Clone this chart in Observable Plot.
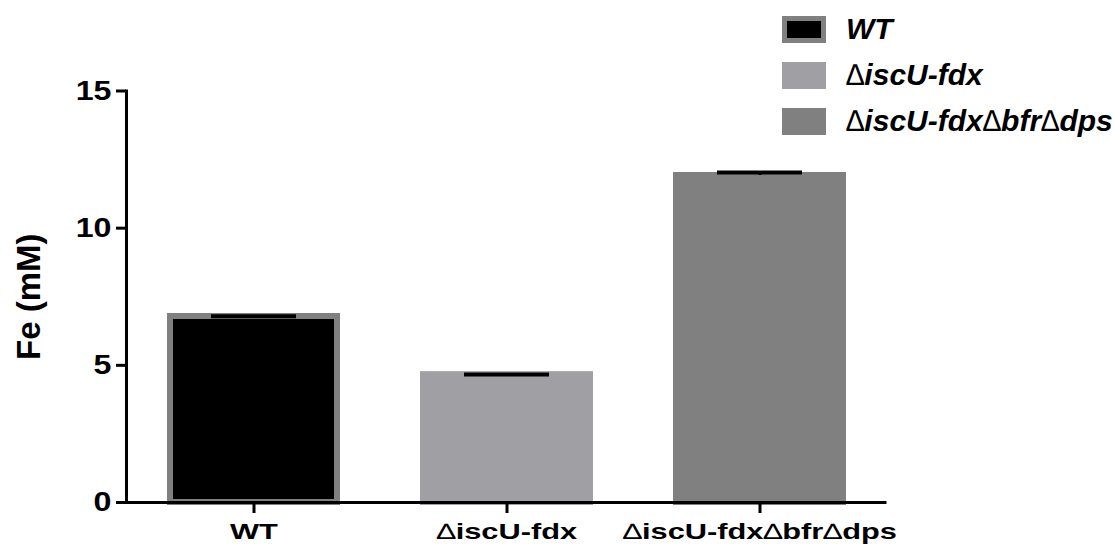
<!DOCTYPE html>
<html>
<head>
<meta charset="utf-8">
<script src="https://cdn.jsdelivr.net/npm/d3@7"></script>
<script src="https://cdn.jsdelivr.net/npm/@observablehq/plot@0.6"></script>
<style>
  html, body { margin: 0; padding: 0; background: #fff; }
  #chart { position: relative; width: 1115px; height: 552px; font-family: "Liberation Sans", Arial, sans-serif; }
  #legend { position: absolute; left: 782px; top: 6px; }
  .item { display: flex; align-items: center; height: 46px; }
  .swatch { width: 44px; height: 27px; box-sizing: border-box; border-style: solid; border-width: 5px; }
  .name { margin-left: 20px; font: italic bold 30px "Liberation Sans", Arial, sans-serif; color: #000; white-space: nowrap; }
  .delta { font-weight: normal; }
</style>
</head>
<body>
<div id="chart"><div id="legend"></div></div>
<script>
// Iron content per strain (mean and SD, mM)
const categories = ["WT", "\u2206iscU-fdx", "\u2206iscU-fdx\u2206bfr\u2206dps"];
const means = [6.78, 4.66, 11.92];
const sds = [0.01, 0.01, 0.11];
const fills = ["#000000", "#a0a0a4", "#808080"];
const borders = ["#808080", "#a0a0a4", "#808080"];
const yTicks = [0, 5, 10, 15];
const yTitle = "Fe (mM)";

const data = categories.map((group, i) => ({
  group, mean: means[i], sd: sds[i], fill: fills[i], border: borders[i]
}));

const plot = Plot.plot({
  width: 1115,
  height: 552,
  marginLeft: 126,
  marginRight: 228.5,
  marginTop: 90.5,
  marginBottom: 50,
  style: { fontFamily: "'Liberation Sans', Arial, sans-serif", color: "#000", background: "#fff" },
  x: { domain: categories, paddingInner: 0.3175, paddingOuter: 0.159, label: null },
  y: { domain: [0, 15], label: null },
  marks: [
    Plot.barY(data, {
      x: "group", y: "mean", fill: "fill", stroke: "border",
      strokeWidth: 6, insetLeft: 3, insetRight: 3
    }),
    // upper SD whisker and cap
    Plot.ruleX(data, { x: "group", y1: "mean", y2: d => d.mean + d.sd, stroke: "#000", strokeWidth: 3 }),
    Plot.tickY(data, { x: "group", y: d => d.mean + d.sd, stroke: "#000", strokeWidth: 4, insetLeft: 44, insetRight: 44 }),
    // axes
    Plot.frame({ anchor: "left", stroke: "#000", strokeWidth: 3 }),
    Plot.ruleY([0], { stroke: "#000", strokeWidth: 3 }),
    Plot.axisY({
      ticks: yTicks, tickSize: 10, tickPadding: 5, strokeWidth: 3,
      fontSize: 28, fontWeight: "bold", label: null, ariaLabel: "y-axis"
    }),
    Plot.axisX({
      tickSize: 11, tickPadding: 10, strokeWidth: 3,
      fontSize: 22, fontWeight: "bold", label: null, ariaLabel: "x-axis"
    }),
    Plot.text([yTitle], {
      frameAnchor: "left", rotate: -90, dx: -97, textAnchor: "middle", text: d => d,
      fontSize: 33, fontWeight: "bold", fill: "#000"
    })
  ]
});

// widen the axis lettering horizontally
function stretch(selector, sx) {
  plot.querySelectorAll(selector).forEach(t => {
    const tr = t.getAttribute("transform");
    if (tr) {
      t.setAttribute("transform", tr + ` scale(${sx},1)`);
    } else {
      const x = +t.getAttribute("x") || 0, y = +t.getAttribute("y") || 0;
      t.setAttribute("x", 0); t.setAttribute("y", 0);
      t.setAttribute("transform", `translate(${x},${y}) scale(${sx},1)`);
    }
  });
}
// set the delta sign in a light weight
function lightDelta(selector) {
  plot.querySelectorAll(selector).forEach(t => {
    if (t.querySelector("tspan")) return;
    const s = t.textContent;
    if (!s.includes("\u2206")) return;
    t.textContent = "";
    s.split(/(\u2206)/).filter(p => p).forEach(p => {
      const ts = document.createElementNS("http://www.w3.org/2000/svg", "tspan");
      ts.textContent = p;
      if (p === "\u2206") ts.setAttribute("font-weight", "normal");
      t.appendChild(ts);
    });
  });
}
lightDelta('g[aria-label="x-axis tick label"] text');
stretch('g[aria-label="x-axis tick label"] text', 1.4);
stretch('g[aria-label="y-axis tick label"] text', 1.15);

const chart = document.getElementById("chart");
chart.insertBefore(plot, chart.firstChild);

// legend
const legend = d3.select("#legend");
categories.forEach((c, i) => {
  const item = legend.append("div").attr("class", "item");
  item.append("div").attr("class", "swatch")
    .style("background", fills[i]).style("border-color", borders[i]);
  const name = item.append("div").attr("class", "name");
  c.split(/(\u2206)/).filter(p => p).forEach(p => {
    name.append("span").attr("class", p === "\u2206" ? "delta" : null).text(p);
  });
});
</script>
</body>
</html>
